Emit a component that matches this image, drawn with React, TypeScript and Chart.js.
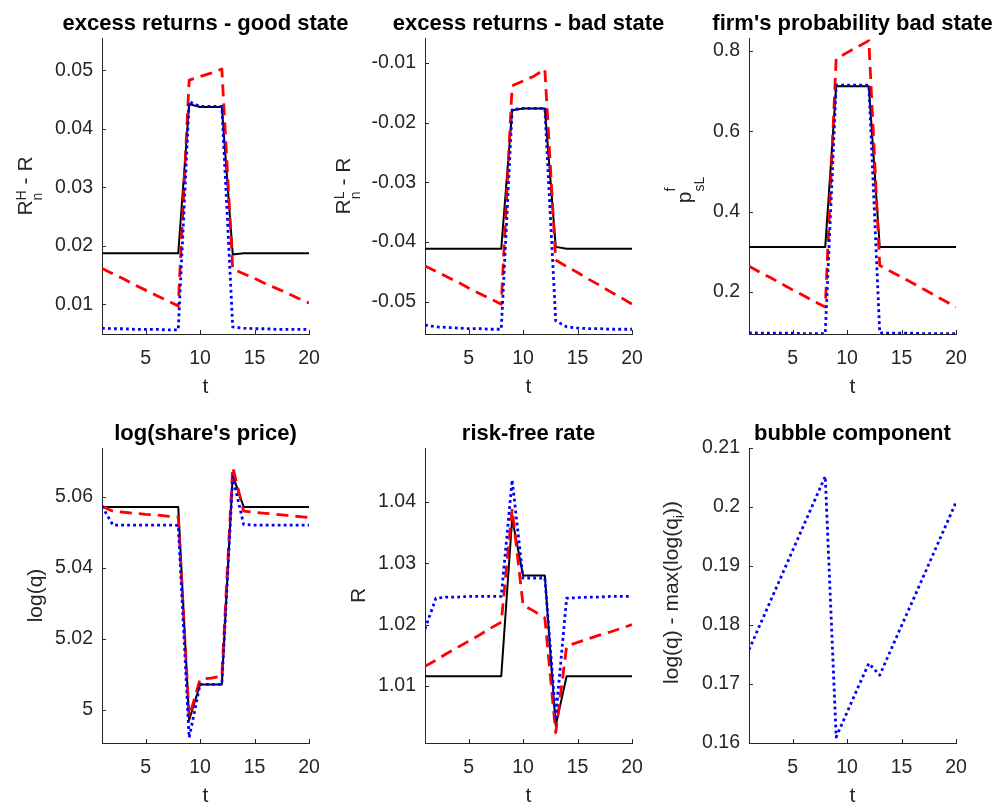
import React, { useEffect, useRef } from 'react';
import { Chart, registerables } from 'chart.js';

Chart.register(...registerables);

// ---------------- data ----------------
const t = [1, 2, 3, 4, 5, 6, 7, 8, 9, 10, 11, 12, 13, 14, 15, 16, 17, 18, 19, 20];
const xTicks = [5, 10, 15, 20];
const xTickLabels = ['5', '10', '15', '20'];

// excess returns - good state
const goodBlack = [0.0187, 0.0187, 0.0187, 0.0187, 0.0187, 0.0187, 0.0187, 0.0187, 0.0442, 0.0437, 0.0437, 0.0437, 0.0185, 0.0187, 0.0187, 0.0187, 0.0187, 0.0187, 0.0187, 0.0187];
const goodRed = [0.0161, 0.0152, 0.0143, 0.0133, 0.0124, 0.0115, 0.0106, 0.0097, 0.0483, 0.0489, 0.0495, 0.0502, 0.0160, 0.0152, 0.0144, 0.0135, 0.0127, 0.0119, 0.0110, 0.0102];
const goodBlue = [0.0059, 0.0058, 0.0058, 0.0057, 0.0057, 0.0057, 0.0056, 0.0056, 0.0446, 0.0438, 0.0438, 0.0438, 0.0061, 0.0059, 0.0058, 0.0058, 0.0057, 0.0057, 0.0057, 0.0057];
const goodTicks = [0.01, 0.02, 0.03, 0.04, 0.05];
const goodTickLabels = ['0.01', '0.02', '0.03', '0.04', '0.05'];

// excess returns - bad state
const badBlack = [-0.0411, -0.0411, -0.0411, -0.0411, -0.0411, -0.0411, -0.0411, -0.0411, -0.0179, -0.0176, -0.0176, -0.0176, -0.0408, -0.0411, -0.0411, -0.0411, -0.0411, -0.0411, -0.0411, -0.0411];
const badRed = [-0.0440, -0.0449, -0.0458, -0.0467, -0.0477, -0.0486, -0.0495, -0.0504, -0.0138, -0.0130, -0.0122, -0.0110, -0.0430, -0.0441, -0.0451, -0.0462, -0.0472, -0.0483, -0.0493, -0.0504];
const badBlue = [-0.0539, -0.0542, -0.0543, -0.0544, -0.0545, -0.0545, -0.0546, -0.0546, -0.0178, -0.0176, -0.0176, -0.0176, -0.0532, -0.0542, -0.0544, -0.0545, -0.0545, -0.0546, -0.0546, -0.0546];
const badTicks = [-0.05, -0.04, -0.03, -0.02, -0.01];
const badTickLabels = ['-0.05', '-0.04', '-0.03', '-0.02', '-0.01'];

// firm's probability bad state
const probBlack = [0.312, 0.312, 0.312, 0.312, 0.312, 0.312, 0.312, 0.312, 0.712, 0.712, 0.712, 0.712, 0.312, 0.312, 0.312, 0.312, 0.312, 0.312, 0.312, 0.312];
const probRed = [0.264, 0.249, 0.235, 0.220, 0.205, 0.191, 0.176, 0.162, 0.781, 0.796, 0.811, 0.826, 0.266, 0.251, 0.237, 0.222, 0.207, 0.192, 0.177, 0.162];
const probBlue = [0.098, 0.097, 0.097, 0.097, 0.097, 0.096, 0.096, 0.096, 0.715, 0.715, 0.715, 0.715, 0.098, 0.097, 0.097, 0.097, 0.096, 0.096, 0.096, 0.096];
const probTicks = [0.2, 0.4, 0.6, 0.8];
const probTickLabels = ['0.2', '0.4', '0.6', '0.8'];

// log(share's price)
const priceBlack = [5.0572, 5.0572, 5.0572, 5.0572, 5.0572, 5.0572, 5.0572, 5.0572, 4.9972, 5.0072, 5.0072, 5.0072, 5.0661, 5.0572, 5.0572, 5.0572, 5.0572, 5.0572, 5.0572, 5.0572];
const priceRed = [5.0574, 5.0560, 5.0557, 5.0554, 5.0551, 5.0549, 5.0546, 5.0544, 4.9980, 5.0086, 5.0090, 5.0095, 5.0684, 5.0560, 5.0557, 5.0554, 5.0551, 5.0548, 5.0545, 5.0542];
const priceBlue = [5.0574, 5.0521, 5.0521, 5.0521, 5.0521, 5.0521, 5.0521, 5.0520, 4.9922, 5.0072, 5.0072, 5.0072, 5.0656, 5.0523, 5.0521, 5.0521, 5.0521, 5.0521, 5.0521, 5.0521];
const priceTicks = [5, 5.02, 5.04, 5.06];
const priceTickLabels = ['5', '5.02', '5.04', '5.06'];

// risk-free rate
const rateBlack = [1.0116, 1.0116, 1.0116, 1.0116, 1.0116, 1.0116, 1.0116, 1.0116, 1.0373, 1.0280, 1.0280, 1.0280, 1.0035, 1.0116, 1.0116, 1.0116, 1.0116, 1.0116, 1.0116, 1.0116];
const rateRed = [1.0132, 1.0142, 1.0153, 1.0163, 1.0173, 1.0183, 1.0194, 1.0204, 1.0389, 1.0232, 1.0222, 1.0211, 1.0024, 1.0165, 1.0171, 1.0177, 1.0183, 1.0188, 1.0194, 1.0200];
const rateBlue = [1.0193, 1.0243, 1.0245, 1.0245, 1.0246, 1.0246, 1.0246, 1.0246, 1.0436, 1.0276, 1.0276, 1.0276, 1.0049, 1.0243, 1.0244, 1.0245, 1.0245, 1.0246, 1.0246, 1.0246];
const rateTicks = [1.01, 1.02, 1.03, 1.04];
const rateTickLabels = ['1.01', '1.02', '1.03', '1.04'];

// bubble component
const bubbleBlue = [0.1758, 0.1800, 0.1842, 0.1884, 0.1926, 0.1968, 0.2010, 0.2052, 0.1610, 0.1652, 0.1694, 0.1735, 0.1715, 0.1757, 0.1799, 0.1840, 0.1882, 0.1924, 0.1966, 0.2008];
const bubbleTicks = [0.16, 0.17, 0.18, 0.19, 0.2, 0.21];
const bubbleTickLabels = ['0.16', '0.17', '0.18', '0.19', '0.2', '0.21'];

// ---------------- styling ----------------
const W = 992;
const H = 802;
const FONT = '"Liberation Sans", Arial, Helvetica, sans-serif';
const AXIS = '#262626';
const TEXT = '#262626';
const YW = 80;
const XH = 40;

type Style = 'black' | 'red' | 'blue';
const styles: Record<Style, any> = {
  black: { borderColor: '#000000', borderWidth: 2, borderDash: [], order: 2 },
  red: { borderColor: '#ff0000', borderWidth: 2.8, borderDash: [12, 7], order: 1 },
  blue: { borderColor: '#0000ff', borderWidth: 2.8, borderDash: [2.8, 3.2], order: 0 },
};

type Seg = { t?: string; sup?: string; sub?: string; rise?: number; drop?: number };

interface Panel {
  title: string;
  yLabel: Seg[];
  yLabelX: number;
  yLabelShift: number;
  yMin: number;
  yMax: number;
  yTicks: number[];
  yTickLabels: string[];
  series: { data: number[]; style: Style }[];
  left: number;
  right: number;
  top: number;
  bottom: number;
}

const ROW1 = { top: 38, bottom: 334 };
const ROW2 = { top: 448, bottom: 743 };
const COL1 = { left: 102, right: 309 };
const COL2 = { left: 425, right: 632 };
const COL3 = { left: 749, right: 956 };

const panels: Panel[] = [
  {
    title: 'excess returns - good state',
    yLabel: [{ t: 'R' }, { sup: 'H', sub: 'n', rise: 6, drop: 10 }, { t: ' - R' }],
    yLabelX: 32,
    yLabelShift: 0,
    yMin: 0.0049, yMax: 0.0555,
    yTicks: goodTicks, yTickLabels: goodTickLabels,
    series: [{ data: goodBlack, style: 'black' }, { data: goodRed, style: 'red' }, { data: goodBlue, style: 'blue' }],
    ...COL1, ...ROW1,
  },
  {
    title: 'excess returns - bad state',
    yLabel: [{ t: 'R' }, { sup: 'L', sub: 'n', rise: 6, drop: 10 }, { t: ' - R' }],
    yLabelX: 350,
    yLabelShift: 0,
    yMin: -0.0554, yMax: -0.0058,
    yTicks: badTicks, yTickLabels: badTickLabels,
    series: [{ data: badBlack, style: 'black' }, { data: badRed, style: 'red' }, { data: badBlue, style: 'blue' }],
    ...COL2, ...ROW1,
  },
  {
    title: "firm's probability bad state",
    yLabel: [{ t: 'p' }, { sup: 'f', sub: 'sL', rise: 16, drop: 13 }],
    yLabelX: 691,
    yLabelShift: 4,
    yMin: 0.095, yMax: 0.8325,
    yTicks: probTicks, yTickLabels: probTickLabels,
    series: [{ data: probBlack, style: 'black' }, { data: probRed, style: 'red' }, { data: probBlue, style: 'blue' }],
    ...COL3, ...ROW1,
  },
  {
    title: "log(share's price)",
    yLabel: [{ t: 'log(q)' }],
    yLabelX: 42,
    yLabelShift: 0,
    yMin: 4.9907, yMax: 5.0738,
    yTicks: priceTicks, yTickLabels: priceTickLabels,
    series: [{ data: priceBlack, style: 'black' }, { data: priceRed, style: 'red' }, { data: priceBlue, style: 'blue' }],
    ...COL1, ...ROW2,
  },
  {
    title: 'risk-free rate',
    yLabel: [{ t: 'R' }],
    yLabelX: 365,
    yLabelShift: 0,
    yMin: 1.0007, yMax: 1.0488,
    yTicks: rateTicks, yTickLabels: rateTickLabels,
    series: [{ data: rateBlack, style: 'black' }, { data: rateRed, style: 'red' }, { data: rateBlue, style: 'blue' }],
    ...COL2, ...ROW2,
  },
  {
    title: 'bubble component',
    yLabel: [{ t: 'log(q) - max(log(q' }, { sub: 'i', drop: 6 }, { t: '))' }],
    yLabelX: 678,
    yLabelShift: -3,
    yMin: 0.16, yMax: 0.21,
    yTicks: bubbleTicks, yTickLabels: bubbleTickLabels,
    series: [{ data: bubbleBlue, style: 'blue' }],
    ...COL3, ...ROW2,
  },
];

const MAIN_SIZE = 21;
const SCRIPT_SIZE = 14;
const TICK_SIZE = 19.5;
const TITLE_SIZE = 22;

const decor = {
  id: 'decor',
  afterDraw(chart: any, _args: any, opts: any) {
    const { ctx, chartArea: a } = chart;
    const xs = chart.scales.x;
    const ys = chart.scales.y;
    ctx.save();
    // inward tick marks
    ctx.strokeStyle = AXIS;
    ctx.lineWidth = 1;
    ctx.beginPath();
    for (const v of opts.xTicks) {
      const px = Math.round(xs.getPixelForValue(v)) + 0.5;
      ctx.moveTo(px, a.bottom);
      ctx.lineTo(px, a.bottom - 4);
    }
    for (const v of opts.yTicks) {
      const py = Math.round(ys.getPixelForValue(v)) + 0.5;
      ctx.moveTo(a.left, py);
      ctx.lineTo(a.left + 4, py);
    }
    ctx.stroke();

    // title
    ctx.fillStyle = '#000000';
    ctx.font = `bold ${TITLE_SIZE}px ${FONT}`;
    ctx.textAlign = 'center';
    ctx.textBaseline = 'alphabetic';
    ctx.fillText(opts.title, (a.left + a.right) / 2, a.top - 8);

    // x label
    ctx.fillStyle = TEXT;
    ctx.font = `${MAIN_SIZE}px ${FONT}`;
    ctx.fillText(opts.xLabel, (a.left + a.right) / 2, a.bottom + 59);

    // y label (rotated, with super/subscripts)
    const segs: Seg[] = opts.yLabel;
    const mainFont = `${MAIN_SIZE}px ${FONT}`;
    const scriptFont = `${SCRIPT_SIZE}px ${FONT}`;
    const widths = segs.map((s) => {
      if (s.t !== undefined) {
        ctx.font = mainFont;
        return ctx.measureText(s.t).width;
      }
      ctx.font = scriptFont;
      return Math.max(s.sup ? ctx.measureText(s.sup).width : 0, s.sub ? ctx.measureText(s.sub).width : 0);
    });
    const total = widths.reduce((p, c) => p + c, 0);
    ctx.translate(opts.yLabelX, (a.top + a.bottom) / 2 + opts.yLabelShift);
    ctx.rotate(-Math.PI / 2);
    ctx.textAlign = 'left';
    let x = -total / 2;
    segs.forEach((s, i) => {
      if (s.t !== undefined) {
        ctx.font = mainFont;
        ctx.fillText(s.t, x, 0);
      } else {
        ctx.font = scriptFont;
        if (s.sup) ctx.fillText(s.sup, x, -(s.rise || 0));
        if (s.sub) ctx.fillText(s.sub, x, s.drop || 0);
      }
      x += widths[i];
    });
    ctx.restore();
  },
};

function PanelChart({ p }: { p: Panel }) {
  const ref = useRef<HTMLCanvasElement | null>(null);
  useEffect(() => {
    if (!ref.current) return;
    const datasets = p.series.map((s) => ({
      data: t.map((x, i) => ({ x, y: s.data[i] })),
      ...styles[s.style],
      fill: false,
      pointRadius: 0,
      pointHoverRadius: 0,
      tension: 0,
      borderJoinStyle: 'round',
      borderCapStyle: 'butt',
    }));
    const chart = new Chart(ref.current, {
      type: 'line',
      data: { datasets } as any,
      options: {
        animation: false,
        responsive: false,
        maintainAspectRatio: false,
        devicePixelRatio: 1,
        events: [],
        layout: {
          padding: { left: p.left - YW, top: p.top, right: W - p.right, bottom: H - p.bottom - XH },
        },
        plugins: {
          legend: { display: false },
          tooltip: { enabled: false },
          decor: {
            title: p.title,
            xLabel: 't',
            yLabel: p.yLabel,
            yLabelX: p.yLabelX,
            yLabelShift: p.yLabelShift,
            xTicks,
            yTicks: p.yTicks,
          },
        } as any,
        scales: {
          x: {
            type: 'linear',
            min: 1,
            max: 20,
            afterBuildTicks: (s: any) => {
              s.ticks = xTicks.map((v) => ({ value: v }));
            },
            afterFit: (s: any) => {
              s.height = XH;
            },
            ticks: {
              callback: (_v: any, i: number) => xTickLabels[i],
              font: { family: FONT, size: TICK_SIZE },
              color: TEXT,
              padding: 13,
              maxRotation: 0,
              autoSkip: false,
            },
            grid: { display: false, drawTicks: false },
            border: { display: true, color: AXIS, width: 1 },
          },
          y: {
            type: 'linear',
            min: p.yMin,
            max: p.yMax,
            afterBuildTicks: (s: any) => {
              s.ticks = p.yTicks.map((v) => ({ value: v }));
            },
            afterFit: (s: any) => {
              s.width = YW;
            },
            ticks: {
              callback: (_v: any, i: number) => p.yTickLabels[i],
              font: { family: FONT, size: TICK_SIZE },
              color: TEXT,
              padding: 9,
              autoSkip: false,
            },
            grid: { display: false, drawTicks: false },
            border: { display: true, color: AXIS, width: 1 },
          },
        },
      } as any,
      plugins: [decor as any],
    });
    return () => chart.destroy();
  }, [p]);
  return (
    <canvas
      ref={ref}
      width={W}
      height={H}
      style={{ position: 'absolute', left: 0, top: 0, width: W, height: H }}
    />
  );
}

export default function App() {
  return (
    <div style={{ position: 'absolute', left: 0, top: 0, width: W, height: H, background: '#ffffff', overflow: 'hidden' }}>
      {panels.map((p, i) => (
        <PanelChart key={i} p={p} />
      ))}
    </div>
  );
}
